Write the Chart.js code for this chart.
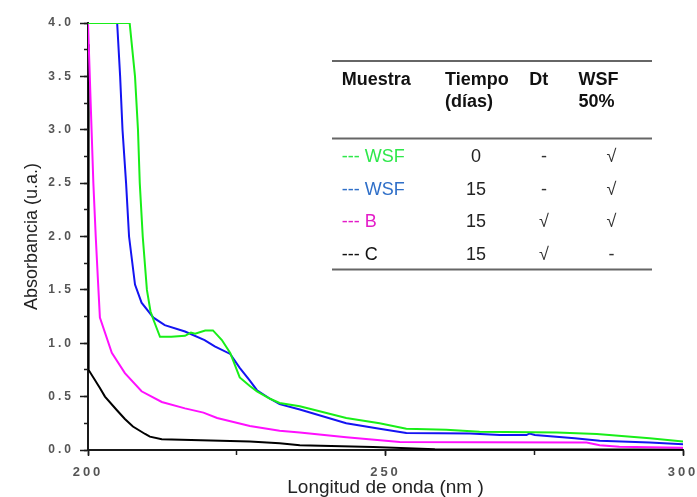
<!DOCTYPE html>
<html lang="es">
<head>
<meta charset="utf-8">
<title>Absorbancia UV</title>
<script src="https://cdn.jsdelivr.net/npm/chart.js@4.4.1/dist/chart.umd.min.js"></script>
<style>
  html, body { margin: 0; padding: 0; background: #ffffff; }
  #wrap { position: relative; width: 697px; height: 497px; overflow: hidden; }
  canvas { display: block; }
</style>
</head>
<body>
<div id="wrap"><canvas id="chart" width="697" height="497"></canvas></div>
<script>
// Espectros UV: longitud de onda (nm) y absorbancia (u.a.) de cada muestra
const wlWsf0  = [200, 207.0, 207.9, 208.4, 208.7, 209.2, 209.9, 210.5, 211.0, 212.1, 214.0, 216.3, 217.3, 218.0, 219.7, 221.0, 222.5, 223.9, 225.5, 227.2, 228.4, 230.6, 232.2, 235.6, 243.4, 249.0, 253.5, 260.2, 265.8, 278.8, 285.5, 294.4, 300];
const absWsf0 = [4.0, 4.0, 3.5, 3.0, 2.5, 2.0, 1.5, 1.3, 1.22, 1.06, 1.06, 1.07, 1.10, 1.09, 1.12, 1.12, 1.03, 0.91, 0.68, 0.60, 0.55, 0.48, 0.44, 0.41, 0.30, 0.25, 0.20, 0.19, 0.17, 0.165, 0.15, 0.11, 0.08];

const wlWsf15  = [200, 204.9, 205.4, 205.8, 206.4, 206.9, 207.9, 209.0, 211.0, 212.9, 216.3, 219.6, 221.3, 223.9, 225.5, 227.2, 228.4, 230.6, 232.2, 235.6, 243.4, 249.0, 253.5, 264.2, 269.2, 273.7, 274.2, 275.1, 281.8, 286.0, 294.4, 300];
const absWsf15 = [4.0, 4.0, 3.5, 3.0, 2.5, 2.0, 1.55, 1.38, 1.24, 1.17, 1.11, 1.03, 0.97, 0.90, 0.77, 0.65, 0.56, 0.48, 0.43, 0.38, 0.25, 0.20, 0.16, 0.155, 0.14, 0.14, 0.155, 0.14, 0.11, 0.087, 0.07, 0.053];

const wlB  = [200, 200.3, 200.6, 200.9, 201.3, 201.7, 202.0, 204.0, 206.2, 209.0, 212.4, 216.3, 219.4, 221.7, 227.2, 232.2, 235.6, 243.4, 252.4, 265.8, 283.8, 286.0, 289.3, 300];
const absB = [4.0, 3.5, 3.0, 2.5, 2.0, 1.56, 1.24, 0.91, 0.72, 0.55, 0.45, 0.39, 0.35, 0.30, 0.225, 0.18, 0.165, 0.12, 0.075, 0.072, 0.07, 0.045, 0.03, 0.02];

const wlC  = [200, 200.1, 202.0, 202.85, 204.9, 206.2, 207.55, 209.6, 210.4, 212.4, 227.2, 232.2, 235.6, 247.9, 258.3, 300];
const absC = [3.8, 0.75, 0.58, 0.50, 0.37, 0.29, 0.22, 0.15, 0.125, 0.10, 0.08, 0.063, 0.045, 0.027, 0.008, 0.005];

// Tabla de muestras
const tableHeaders = [['Muestra'], ['Tiempo', '(días)'], ['Dt'], ['WSF', '50%']];
const sampleNames  = ['WSF', 'WSF', 'B', 'C'];
const sampleDays   = ['0', '15', '15', '15'];
const sampleDt     = ['-', '-', '√', '√'];
const sampleWsf50  = ['√', '√', '√', '-'];

const lineColors = ['#18ee18', '#1414f2', '#ff10ff', '#000000'];
const textColors = ['#2ee84a', '#2f6fc8', '#e41cc8', '#111111'];

const FONT = "'Liberation Sans', Arial, Helvetica, sans-serif";
Chart.defaults.font.family = FONT;

const toPoints = (xs, ys) => xs.map((x, i) => ({ x: x, y: ys[i] }));

const seriesX = [wlWsf0, wlWsf15, wlB, wlC];
const seriesY = [absWsf0, absWsf15, absB, absC];

const datasets = sampleNames.map((name, i) => ({
  label: name + ' ' + sampleDays[i],
  data: toPoints(seriesX[i], seriesY[i]),
  borderColor: lineColors[i],
  borderWidth: 2,
  pointRadius: 0,
  tension: 0,
  fill: false
}));

// Espaciado de letras para las etiquetas de los ejes (dibujadas tras las curvas)
const tickSpacing = {
  id: 'tickSpacing',
  afterDatasetsDraw(chart) { chart.ctx.letterSpacing = '3px'; },
  afterDraw(chart) { chart.ctx.letterSpacing = '0px'; }
};

// Tabla de leyenda sobre el área del gráfico
const sampleTable = {
  id: 'sampleTable',
  afterDraw(chart) {
    const ctx = chart.ctx;
    ctx.save();
    ctx.letterSpacing = '0px';
    const x0 = 332, x1 = 652;
    ctx.strokeStyle = '#666666';
    ctx.lineWidth = 2;
    [61, 138.5, 269.5].forEach(y => {
      ctx.beginPath(); ctx.moveTo(x0, y); ctx.lineTo(x1, y); ctx.stroke();
    });

    const headLeft = [341.7, 445, 529.3, 578.5];
    ctx.textBaseline = 'alphabetic';
    ctx.textAlign = 'left';
    ctx.fillStyle = '#111111';
    ctx.font = 'bold 18px ' + FONT;
    tableHeaders.forEach((lines, c) => {
      lines.forEach((t, k) => ctx.fillText(t, headLeft[c], 84.5 + k * 22.3));
    });

    ctx.font = '18px ' + FONT;
    sampleNames.forEach((name, r) => {
      const y = 162 + r * 32.5;
      ctx.textAlign = 'left';
      ctx.fillStyle = textColors[r];
      ctx.fillText('--- ' + name, 341.7, y);
      ctx.textAlign = 'center';
      ctx.fillStyle = '#222222';
      ctx.fillText(sampleDays[r], 476, y);
      ctx.fillStyle = '#333333';
      ctx.fillText(sampleDt[r], 544, y);
      ctx.fillText(sampleWsf50[r], 611.5, y);
    });
    ctx.restore();
  }
};

const axisColor = '#1a1a1a';
const tickFont = { family: FONT, size: 12, weight: 'bold' };

new Chart(document.getElementById('chart'), {
  type: 'line',
  data: { datasets: datasets },
  plugins: [tickSpacing, sampleTable],
  options: {
    responsive: false,
    animation: false,
    devicePixelRatio: 1,
    layout: { padding: { left: 0, right: 14, top: 23, bottom: 0 } },
    plugins: { legend: { display: false }, tooltip: { enabled: false } },
    scales: {
      x: {
        type: 'linear', position: 'bottom', min: 200, max: 300, weight: 1,
        ticks: { stepSize: 50, callback: v => String(v), font: { family: FONT, size: 13, weight: 'bold' }, color: '#555555', padding: 9, maxRotation: 0, z: 1 },
        grid: { drawOnChartArea: false, tickLength: 6, tickColor: axisColor, tickWidth: 1.5 },
        border: { color: axisColor, width: 2 },
        title: { display: true, text: 'Longitud de onda (nm )', color: '#222222', font: { family: FONT, size: 19, lineHeight: 1 }, padding: { top: 0, bottom: 0 } },
        afterFit: s => { s.height = 47; s.paddingLeft = 0; s.paddingRight = 0; }
      },
      x2: {
        type: 'linear', position: 'bottom', min: 200, max: 300, weight: 0,
        ticks: { stepSize: 25, callback: () => '' },
        grid: { drawOnChartArea: false, tickLength: 5, tickColor: axisColor, tickWidth: 1.5 },
        border: { display: false },
        afterFit: s => { s.height = 0; s.paddingLeft = 0; s.paddingRight = 0; }
      },
      y: {
        type: 'linear', position: 'left', min: 0, max: 4, weight: 1,
        ticks: { stepSize: 0.5, callback: v => v.toFixed(1), font: tickFont, color: '#555555', padding: 6, z: 1 },
        grid: { drawOnChartArea: false, tickLength: 8, tickColor: axisColor, tickWidth: 1.5 },
        border: { color: axisColor, width: 2 },
        title: { display: true, text: 'Absorbancia (u.a.)', color: '#222222', font: { family: FONT, size: 18, lineHeight: 1.2 }, padding: { top: 21, bottom: 0 } },
        afterFit: s => { s.width = 88; s.paddingTop = 0; s.paddingBottom = 0; }
      },
      y2: {
        type: 'linear', position: 'left', min: 0, max: 4, weight: 0,
        ticks: { stepSize: 0.25, callback: () => '' },
        grid: { drawOnChartArea: false, tickLength: 4, tickColor: axisColor, tickWidth: 1.5 },
        border: { display: false },
        afterFit: s => { s.width = 0; s.paddingTop = 0; s.paddingBottom = 0; }
      }
    }
  }
});
</script>
</body>
</html>
